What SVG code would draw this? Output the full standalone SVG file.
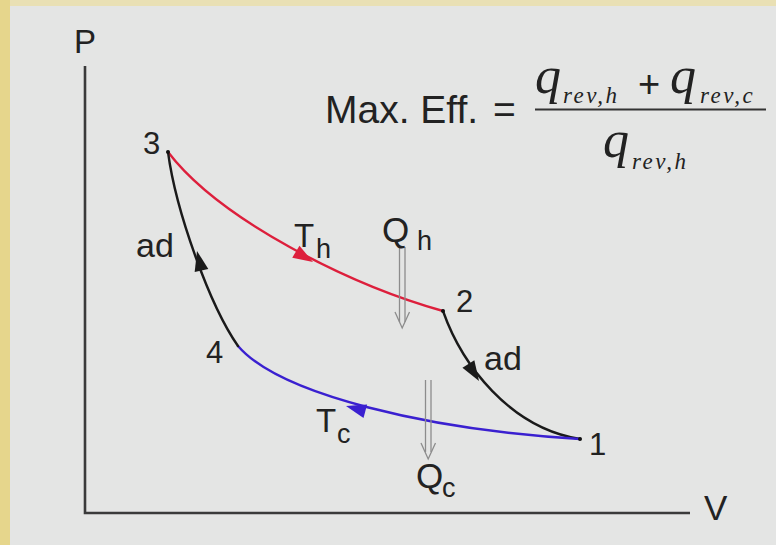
<svg xmlns="http://www.w3.org/2000/svg" width="776" height="545" viewBox="0 0 776 545">
<style>
.lbl{font-family:"Liberation Sans",Arial,sans-serif;fill:#222;}
.math{font-family:"Liberation Serif","Times New Roman",serif;font-style:italic;fill:#222;}
.curve{fill:none;stroke-width:2.4;stroke-linecap:round;}
.axis{fill:none;stroke:#3a3a3a;stroke-width:2.6;}
.heat{fill:none;stroke:#8c8c8c;stroke-width:1.3;}
</style>
<defs>
<polygon id="ah" points="0,0 -20,-7 -20,7"/>
</defs>
<rect x="0" y="0" width="776" height="545" fill="#e4e5e4"/>
<rect x="0" y="0" width="776" height="6" fill="#e9e0b4"/>
<rect x="0" y="0" width="10" height="545" fill="#e6d68c"/>

<g id="axes">
<polyline class="axis" points="85,66 85,513 690,513"/>
<text class="lbl" x="74" y="53" font-size="33">P</text>
<text class="lbl" x="704" y="520" font-size="35">V</text>
</g>

<g id="formula">
<text class="lbl" x="325" y="123" font-size="39">Max. Eff.</text>
<text class="lbl" x="493" y="123" font-size="39">=</text>
<text class="math" x="535" y="93" font-size="52">q</text>
<text class="math" x="563" y="103" font-size="23" letter-spacing="2.5">rev,h</text>
<text class="lbl" x="638" y="97" font-size="38">+</text>
<text class="math" x="670" y="93" font-size="52">q</text>
<text class="math" x="700" y="103" font-size="23" letter-spacing="2.5">rev,c</text>
<line x1="535" y1="109.5" x2="766" y2="109.5" stroke="#333" stroke-width="2"/>
<text class="math" x="603" y="157" font-size="52">q</text>
<text class="math" x="632" y="169" font-size="23" letter-spacing="2.5">rev,h</text>
</g>

<g id="connectors">
<path id="c32" class="curve" stroke="#dd1f3c" d="M168,152 C220,220 350,285 443,311"/>
<path id="c21" class="curve" stroke="#1a1a1a" d="M443,311 C462,365 510,428 580,439"/>
<path id="c14" class="curve" stroke="#3a20d0" d="M580,439 C430,430 280,395 238,346"/>
<path id="c43" class="curve" stroke="#1a1a1a" d="M238,346 C210,306 176,212 168,152"/>
<use href="#ah" fill="#dd1f3c" transform="translate(313,262) rotate(31)"/>
<use href="#ah" fill="#1a1a1a" transform="translate(479,381) rotate(58)"/>
<use href="#ah" fill="#3a20d0" transform="translate(346,406) rotate(195)"/>
<use href="#ah" fill="#1a1a1a" transform="translate(197,251) rotate(-103)"/>
</g>

<g id="node3">
<circle cx="168" cy="152" r="2" fill="#111"/>
<text class="lbl" x="143" y="154" font-size="31">3</text>
</g>
<g id="node2">
<circle cx="443" cy="311" r="2" fill="#111"/>
<text class="lbl" x="456" y="312" font-size="31">2</text>
</g>
<g id="node1">
<circle cx="580" cy="439" r="2" fill="#111"/>
<text class="lbl" x="589" y="455" font-size="31">1</text>
</g>
<g id="node4">
<text class="lbl" x="206" y="363" font-size="31">4</text>
</g>

<g id="labels">
<text class="lbl" x="136" y="257" font-size="34">ad</text>
<text class="lbl" x="484" y="370" font-size="34">ad</text>
<text class="lbl" x="294" y="247" font-size="33">T</text>
<text class="lbl" x="316" y="258" font-size="27">h</text>
<text class="lbl" x="316" y="432" font-size="33">T</text>
<text class="lbl" x="337" y="443" font-size="27">c</text>
</g>

<g id="Qh">
<line class="heat" x1="399.5" y1="247" x2="399.5" y2="322"/>
<line class="heat" x1="405" y1="247" x2="405" y2="322"/>
<polyline class="heat" points="395,312 402.2,328 409.5,312"/>
<text class="lbl" x="382" y="242" font-size="35">Q</text>
<text class="lbl" x="417" y="250" font-size="27">h</text>
</g>
<g id="Qc">
<line class="heat" x1="425.5" y1="380" x2="425.5" y2="452"/>
<line class="heat" x1="431" y1="380" x2="431" y2="452"/>
<polyline class="heat" points="421,443 428.2,459 435.5,443"/>
<text class="lbl" x="416" y="488" font-size="35">Q</text>
<text class="lbl" x="442" y="497" font-size="27">c</text>
</g>
</svg>
